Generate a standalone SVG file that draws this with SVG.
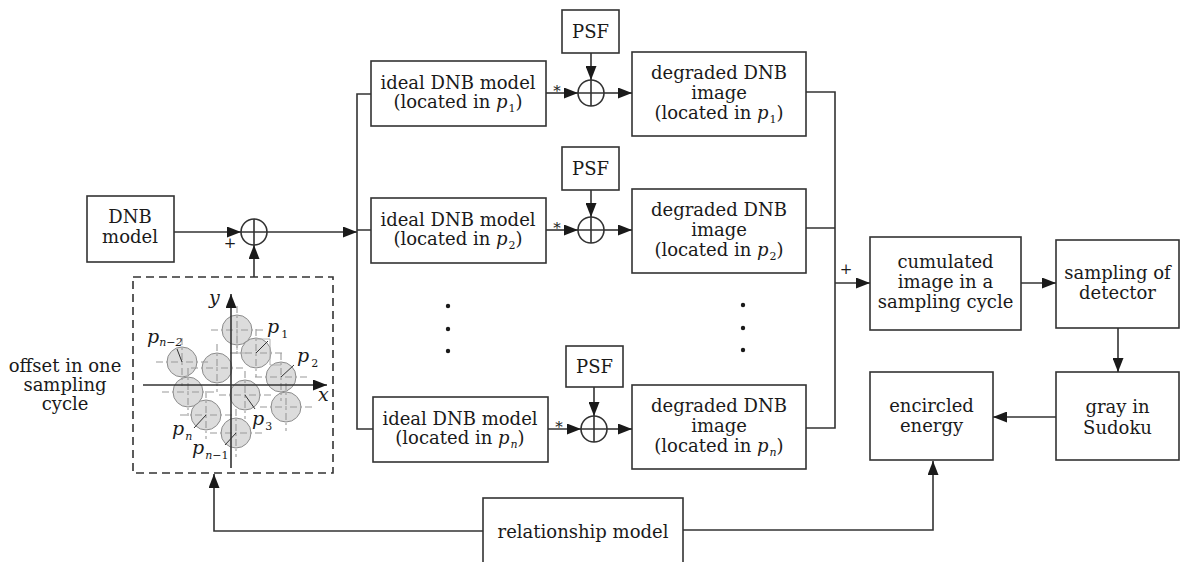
<svg xmlns="http://www.w3.org/2000/svg" width="1183" height="562" viewBox="0 0 1183 562">
<defs>
<style>
.box{fill:#fff;stroke:#333;stroke-width:1.6}
.ln{fill:none;stroke:#333;stroke-width:1.6}
.t{font-family:"DejaVu Serif","Liberation Serif",serif;font-size:18px;fill:#1a1a1a;text-anchor:middle}
.it{font-style:italic}
.sub{font-size:11px}
.sm{font-family:"DejaVu Serif","Liberation Serif",serif;font-size:15px;fill:#1a1a1a;text-anchor:middle}
.lab{font-family:"DejaVu Serif","Liberation Serif",serif;font-size:19px;fill:#1a1a1a;font-style:italic}
.dot{fill:#1a1a1a}
.dc{fill:#dcdcdc;stroke:#8c8c8c;stroke-width:1}
.ch{stroke:#9a9a9a;stroke-width:1.1;stroke-dasharray:7 3 2 3;fill:none}
.rad{stroke:#333;stroke-width:1;fill:none}
.dash{fill:none;stroke:#333;stroke-width:1.6;stroke-dasharray:8 5}
</style>
<marker id="ar" markerUnits="userSpaceOnUse" markerWidth="14" markerHeight="11" refX="14" refY="5.5" orient="auto">
<path d="M0,0 L14,5.5 L0,11 z" fill="#1a1a1a"/>
</marker>
</defs>
<rect width="1183" height="562" fill="#fff"/>

<g id="dnb-model">
<rect class="box" x="87" y="196" width="87" height="66"/>
<text class="t" x="130" y="223">DNB</text>
<text class="t" x="130" y="243">model</text>
</g>

<g id="sum-main">
<circle cx="254" cy="232" r="13" fill="#fff" stroke="#333" stroke-width="1.6"/>
<path class="ln" d="M241,232 H267 M254,219 V245"/>
<text class="sm" x="230" y="248">+</text>
</g>

<g id="offset-box">
<rect class="dash" x="133" y="277" width="200" height="196"/>
<g id="circles">
<circle class="dc" cx="237" cy="330" r="15"/>
<circle class="dc" cx="256" cy="353" r="15"/>
<circle class="dc" cx="281" cy="377" r="15"/>
<circle class="dc" cx="286" cy="407" r="15"/>
<circle class="dc" cx="245" cy="395" r="15"/>
<circle class="dc" cx="236" cy="433" r="15"/>
<circle class="dc" cx="206" cy="415" r="15"/>
<circle class="dc" cx="188" cy="392" r="15"/>
<circle class="dc" cx="182" cy="362" r="15"/>
<circle class="dc" cx="217" cy="368" r="15"/>
</g>
<g id="crosshairs">
<path class="ch" d="M211,330 H263 M237,306 V354"/>
<path class="ch" d="M230,353 H282 M256,329 V377"/>
<path class="ch" d="M255,377 H307 M281,353 V401"/>
<path class="ch" d="M260,407 H312 M286,383 V431"/>
<path class="ch" d="M219,395 H271 M245,371 V419"/>
<path class="ch" d="M210,433 H262 M236,409 V457"/>
<path class="ch" d="M180,415 H232 M206,391 V439"/>
<path class="ch" d="M162,392 H214 M188,368 V416"/>
<path class="ch" d="M156,362 H208 M182,338 V386"/>
<path class="ch" d="M191,368 H243 M217,344 V392"/>
<path fill="none" stroke="#b0b0b0" stroke-width="1" d="M237,330 V350 M256,339 H270 V365 H281 M231,353 H247"/>
</g>
<g id="radii">
<path class="rad" d="M182,362 L177,349"/>
<path class="rad" d="M256,353 L268,341"/>
<path class="rad" d="M281,377 L294,365"/>
<path class="rad" d="M245,395 L255,409"/>
<path class="rad" d="M206,415 L194,428"/>
<path class="rad" d="M236,433 L225,445"/>
</g>
<g id="axes">
<path class="ln" d="M231,468 V294" marker-end="url(#ar)"/>
<path class="ln" d="M143,385 H327" marker-end="url(#ar)"/>
<text class="lab" x="209" y="304">y</text>
<text class="lab" x="318" y="401">x</text>
</g>
<g id="labels">
<text class="lab" x="147" y="343">p<tspan class="sub" dy="3">n−2</tspan></text>
<text class="lab" x="267" y="333">p<tspan class="sub" dy="5" dx="2" font-style="normal">1</tspan></text>
<text class="lab" x="297" y="362">p<tspan class="sub" dy="5" dx="2" font-style="normal">2</tspan></text>
<text class="lab" x="252" y="425">p<tspan class="sub" dy="5" dx="1" font-style="normal">3</tspan></text>
<text class="lab" x="172" y="435">p<tspan class="sub" dy="5" dx="1">n</tspan></text>
<text class="lab" x="192" y="454">p<tspan class="sub" dy="5" dx="1">n<tspan font-style="normal">−1</tspan></tspan></text>
</g>
</g>
<text class="t" x="65" y="372">offset in one</text>
<text class="t" x="65" y="391">sampling</text>
<text class="t" x="65" y="410">cycle</text>

<g id="ideal-p1">
<rect class="box" x="371" y="61" width="175" height="65"/>
<text class="t" x="458" y="89">ideal DNB model</text>
<text class="t" x="458" y="108">(located in <tspan class="it">p</tspan><tspan class="sub" dy="4" dx="1">1</tspan><tspan dy="-4">)</tspan></text>
</g>
<g id="ideal-p2">
<rect class="box" x="371" y="198" width="175" height="65"/>
<text class="t" x="458" y="226">ideal DNB model</text>
<text class="t" x="458" y="245">(located in <tspan class="it">p</tspan><tspan class="sub" dy="4" dx="1">2</tspan><tspan dy="-4">)</tspan></text>
</g>
<g id="ideal-pn">
<rect class="box" x="373" y="397" width="175" height="65"/>
<text class="t" x="460" y="425">ideal DNB model</text>
<text class="t" x="460" y="444">(located in <tspan class="it">p</tspan><tspan class="sub it" dy="4" dx="1">n</tspan><tspan dy="-4">)</tspan></text>
</g>

<g id="psf-1">
<rect class="box" x="562" y="10" width="57" height="43"/>
<text class="t" x="590.5" y="38">PSF</text>
</g>
<g id="psf-2">
<rect class="box" x="562" y="147" width="57" height="43"/>
<text class="t" x="590.5" y="175">PSF</text>
</g>
<g id="psf-n">
<rect class="box" x="566" y="346" width="57" height="41"/>
<text class="t" x="594.5" y="373">PSF</text>
</g>

<g id="conv-1">
<circle cx="591" cy="93" r="13" fill="#fff" stroke="#333" stroke-width="1.6"/>
<path class="ln" d="M578,93 H604 M591,80 V106"/>
<text class="sm" x="557" y="96">*</text>
</g>
<g id="conv-2">
<circle cx="591" cy="230" r="13" fill="#fff" stroke="#333" stroke-width="1.6"/>
<path class="ln" d="M578,230 H604 M591,217 V243"/>
<text class="sm" x="557" y="233">*</text>
</g>
<g id="conv-n">
<circle cx="594" cy="429" r="13" fill="#fff" stroke="#333" stroke-width="1.6"/>
<path class="ln" d="M581,429 H607 M594,416 V442"/>
<text class="sm" x="559" y="432">*</text>
</g>

<g id="degraded-p1">
<rect class="box" x="632" y="52" width="174" height="84"/>
<text class="t" x="719" y="79">degraded DNB</text>
<text class="t" x="719" y="99">image</text>
<text class="t" x="719" y="119">(located in <tspan class="it">p</tspan><tspan class="sub" dy="4" dx="1">1</tspan><tspan dy="-4">)</tspan></text>
</g>
<g id="degraded-p2">
<rect class="box" x="632" y="189" width="174" height="84"/>
<text class="t" x="719" y="216">degraded DNB</text>
<text class="t" x="719" y="236">image</text>
<text class="t" x="719" y="256">(located in <tspan class="it">p</tspan><tspan class="sub" dy="4" dx="1">2</tspan><tspan dy="-4">)</tspan></text>
</g>
<g id="degraded-pn">
<rect class="box" x="632" y="385" width="174" height="84"/>
<text class="t" x="719" y="412">degraded DNB</text>
<text class="t" x="719" y="432">image</text>
<text class="t" x="719" y="452">(located in <tspan class="it">p</tspan><tspan class="sub it" dy="4" dx="1">n</tspan><tspan dy="-4">)</tspan></text>
</g>

<g id="ellipsis">
<circle class="dot" cx="448" cy="306" r="2.2"/>
<circle class="dot" cx="448" cy="329" r="2.2"/>
<circle class="dot" cx="448" cy="351" r="2.2"/>
<circle class="dot" cx="743" cy="305" r="2.2"/>
<circle class="dot" cx="743" cy="328" r="2.2"/>
<circle class="dot" cx="743" cy="350" r="2.2"/>
</g>

<g id="cumulated">
<rect class="box" x="870" y="237" width="151" height="93"/>
<text class="t" x="945.5" y="268">cumulated</text>
<text class="t" x="945.5" y="288">image in a</text>
<text class="t" x="945.5" y="308">sampling cycle</text>
</g>
<g id="sampling">
<rect class="box" x="1056" y="240" width="123" height="88"/>
<text class="t" x="1117.5" y="279">sampling of</text>
<text class="t" x="1117.5" y="299">detector</text>
</g>
<g id="gray">
<rect class="box" x="1056" y="372" width="123" height="88"/>
<text class="t" x="1117.5" y="413">gray in</text>
<text class="t" x="1117.5" y="434">Sudoku</text>
</g>
<g id="encircled">
<rect class="box" x="870" y="372" width="123" height="88"/>
<text class="t" x="931.5" y="412">encircled</text>
<text class="t" x="931.5" y="432">energy</text>
</g>
<g id="relationship">
<rect class="box" x="483" y="498" width="200" height="80"/>
<text class="t" x="583" y="538">relationship model</text>
</g>

<g id="connectors">
<path class="ln" d="M174,232 H241" marker-end="url(#ar)"/>
<path class="ln" d="M254,277 V245" marker-end="url(#ar)"/>
<path class="ln" d="M267,232 H357" marker-end="url(#ar)"/>
<path class="ln" d="M371,94 H357 V429 H373 M357,230 H371"/>
<path class="ln" d="M546,93 H578" marker-end="url(#ar)"/>
<path class="ln" d="M546,230 H578" marker-end="url(#ar)"/>
<path class="ln" d="M548,429 H581" marker-end="url(#ar)"/>
<path class="ln" d="M591,53 V80" marker-end="url(#ar)"/>
<path class="ln" d="M591,190 V217" marker-end="url(#ar)"/>
<path class="ln" d="M594,387 V416" marker-end="url(#ar)"/>
<path class="ln" d="M604,93 H632" marker-end="url(#ar)"/>
<path class="ln" d="M604,230 H632" marker-end="url(#ar)"/>
<path class="ln" d="M607,429 H632" marker-end="url(#ar)"/>
<path class="ln" d="M806,92 H835 V428 H806 M806,228 H835"/>
<path class="ln" d="M835,283 H870" marker-end="url(#ar)"/>
<text class="sm" x="846" y="274">+</text>
<path class="ln" d="M1021,283 H1056" marker-end="url(#ar)"/>
<path class="ln" d="M1118,328 V372" marker-end="url(#ar)"/>
<path class="ln" d="M1056,417 H993" marker-end="url(#ar)"/>
<path class="ln" d="M483,531 H214 V474" marker-end="url(#ar)"/>
<path class="ln" d="M683,530 H933 V461" marker-end="url(#ar)"/>
</g>
</svg>
